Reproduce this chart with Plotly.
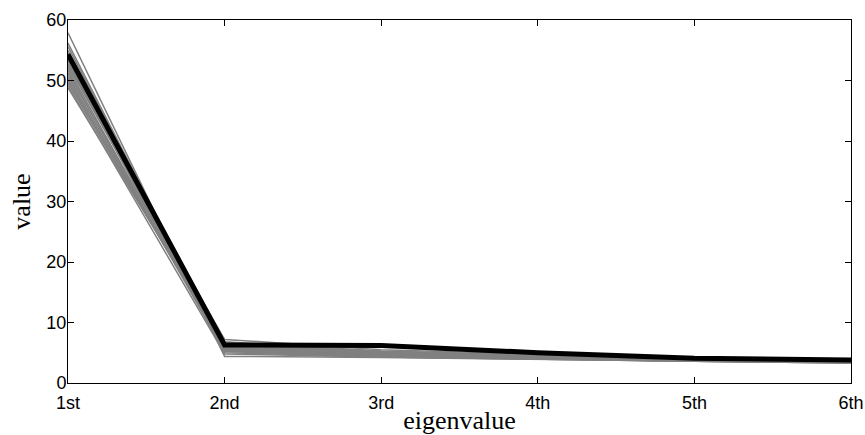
import plotly.graph_objects as go

# Data
categories = ["1st", "2nd", "3rd", "4th", "5th", "6th"]
mean_values = [54.3, 6.3, 6.2, 5.0, 4.1, 3.8]
gray_series = [
    [57.9, 4.4, 4.2, 3.9, 3.5, 3.3],
    [56.2, 5.5, 4.8, 4.3, 3.8, 3.5],
    [55.6, 6.0, 5.0, 4.5, 3.9, 3.6],
    [55.0, 5.8, 4.6, 4.2, 3.7, 3.4],
    [54.6, 6.8, 5.3, 4.6, 4.0, 3.7],
    [54.0, 5.4, 4.5, 4.1, 3.7, 3.4],
    [53.6, 6.4, 5.1, 4.4, 3.9, 3.6],
    [53.2, 5.2, 4.4, 4.0, 3.6, 3.4],
    [52.8, 6.1, 4.9, 4.3, 3.8, 3.5],
    [52.4, 7.2, 5.5, 4.7, 4.0, 3.7],
    [52.0, 5.6, 4.7, 4.2, 3.7, 3.5],
    [51.6, 5.0, 4.3, 3.9, 3.6, 3.3],
    [51.2, 6.6, 5.2, 4.5, 3.9, 3.6],
    [50.8, 5.7, 4.6, 4.1, 3.7, 3.4],
    [50.4, 5.3, 4.5, 4.0, 3.6, 3.4],
    [50.0, 6.2, 4.8, 4.3, 3.8, 3.5],
    [49.6, 5.9, 4.7, 4.2, 3.7, 3.4],
    [49.2, 4.8, 4.3, 3.9, 3.6, 3.3],
    [48.8, 6.5, 4.9, 4.4, 3.8, 3.5],
]
y_ticks = [0, 10, 20, 30, 40, 50, 60]

x_pos = list(range(len(categories)))

fig = go.Figure()
for s in gray_series:
    fig.add_trace(go.Scatter(x=x_pos, y=s, mode="lines",
                             line=dict(color="rgb(128,128,128)", width=1.5),
                             showlegend=False, hoverinfo="skip"))
fig.add_trace(go.Scatter(x=x_pos, y=mean_values, mode="lines",
                         line=dict(color="black", width=5),
                         showlegend=False))

axis_common = dict(showgrid=False, zeroline=False, showline=True,
                   linecolor="black", linewidth=1, mirror="ticks",
                   ticks="inside", ticklen=6, tickcolor="black",
                   automargin=False,
                   tickfont=dict(family="Liberation Sans, Arial, sans-serif",
                                 size=18, color="black"))

fig.update_layout(
    width=865, height=435,
    margin=dict(l=68, r=14, t=20, b=52, autoexpand=False),
    paper_bgcolor="white", plot_bgcolor="white",
    xaxis=dict(range=[0, 5], tickvals=x_pos, ticktext=categories,
               ticklabeloverflow="allow", ticklabelstandoff=3,
               title=dict(text="eigenvalue", standoff=10,
                          font=dict(family="Liberation Serif, Times New Roman, serif",
                                    size=26, color="black")),
               **axis_common),
    yaxis=dict(range=[0, 60], tickvals=y_ticks, ticklabelstandoff=-3,
               title=dict(text="value", standoff=8,
                          font=dict(family="Liberation Serif, Times New Roman, serif",
                                    size=26, color="black")),
               **axis_common),
)

fig.write_html("out.html",
               config={"displayModeBar": False},
               post_script="document.body.style.margin='0px';"
                           "document.body.style.overflow='hidden';")
